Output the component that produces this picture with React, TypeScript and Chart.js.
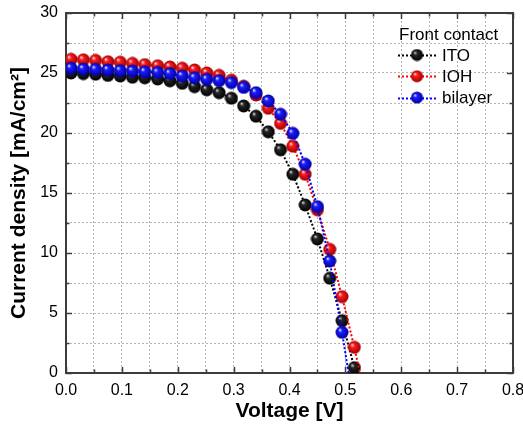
import React, { useEffect, useRef } from "react";
import { Chart, registerables } from "chart.js";

Chart.register(...registerables);

// ---- Data ----
const voltage = [
  0.009, 0.031, 0.053, 0.075, 0.097, 0.119, 0.141, 0.164, 0.186, 0.208, 0.23, 0.252,
  0.274, 0.296, 0.318, 0.34, 0.362, 0.384, 0.406, 0.428, 0.45, 0.472, 0.494, 0.516, 0.538,
];
const jITO = [
  25.0, 24.95, 24.9, 24.8, 24.75, 24.65, 24.6, 24.5, 24.35, 24.14, 23.86, 23.6,
  23.36, 22.9, 22.25, 21.4, 20.1, 18.6, 16.56, 14.0, 11.17, 7.9, 4.36, 0.44, -4.0,
];
const jIOH = [
  26.14, 26.1, 26.05, 25.94, 25.9, 25.8, 25.7, 25.6, 25.5, 25.4, 25.25, 25.0,
  24.8, 24.4, 23.9, 23.17, 22.06, 20.8, 18.9, 16.56, 13.6, 10.3, 6.36, 2.14, -2.5,
];
const jBilayer = [
  25.4, 25.33, 25.3, 25.25, 25.2, 25.17, 25.1, 25.05, 24.95, 24.75, 24.6, 24.47,
  24.36, 24.2, 23.8, 23.36, 22.67, 21.56, 19.97, 17.4, 13.86, 9.33, 3.39, -3.0,
];

const seriesNames = ["ITO", "IOH", "bilayer"];
const seriesColors = ["#000000", "#ff0000", "#0000ff"];
const legendTitle = "Front contact";

const xTickValues = [
  0, 0.05, 0.1, 0.15, 0.2, 0.25, 0.3, 0.35, 0.4, 0.45, 0.5, 0.55, 0.6, 0.65, 0.7, 0.75, 0.8,
];
const xTickLabels = ["0.0", "0.1", "0.2", "0.3", "0.4", "0.5", "0.6", "0.7", "0.8"];
const yTickValues = [0, 2.5, 5, 7.5, 10, 12.5, 15, 17.5, 20, 22.5, 25, 27.5, 30];
const yTickLabels = ["0", "5", "10", "15", "20", "25", "30"];

const xTitle = "Voltage [V]";
const yTitle = "Current density [mA/cm²]";

const FONT = '"Liberation Sans", Arial, sans-serif';

const ballPalettes: Record<string, [string, string, string]> = {
  "#000000": ["#d0d0d0", "#262626", "#000000"],
  "#ff0000": ["#ffe6e6", "#ff1c1c", "#a00000"],
  "#0000ff": ["#e6e6ff", "#1c1cff", "#0000a0"],
};

function makeBall(color: string, r: number): HTMLCanvasElement {
  const size = Math.round(r * 2) + 1;
  const c = document.createElement("canvas");
  c.width = size;
  c.height = size;
  const g = c.getContext("2d")!;
  const cx = size / 2;
  const cy = size / 2;
  const [hi, mid, dark] = ballPalettes[color];
  const grad = g.createRadialGradient(cx - r * 0.35, cy - r * 0.4, r * 0.05, cx, cy, r);
  grad.addColorStop(0, hi);
  grad.addColorStop(0.28, mid);
  grad.addColorStop(1, dark);
  g.fillStyle = grad;
  g.beginPath();
  g.arc(cx, cy, r, 0, Math.PI * 2);
  g.fill();
  return c;
}

export default function App() {
  const canvasRef = useRef<HTMLCanvasElement | null>(null);

  useEffect(() => {
    const canvas = canvasRef.current;
    if (!canvas) return;

    const balls = seriesColors.map((c) => makeBall(c, 6.5));
    const legendBalls = seriesColors.map((c) => makeBall(c, 6));
    const seriesValues = [jITO, jIOH, jBilayer];
    const drawOrder = [2, 1, 0];

    const framePlugin = {
      id: "frameTicks",
      beforeDatasetsDraw(chart: any) {
        const { ctx, chartArea } = chart;
        const { left, right, top, bottom } = chartArea;
        const xs = chart.scales.x;
        const ys = chart.scales.y;
        ctx.save();
        ctx.strokeStyle = "#3c3c3c";
        ctx.lineWidth = 2;
        ctx.strokeRect(left, top, right - left, bottom - top);
        ctx.lineWidth = 1.5;
        xTickValues.forEach((v, i) => {
          const px = Math.round(xs.getPixelForValue(v)) + 0.5;
          const len = i % 2 === 0 ? 6 : 3.5;
          ctx.beginPath();
          ctx.moveTo(px, bottom);
          ctx.lineTo(px, bottom - len);
          ctx.moveTo(px, top);
          ctx.lineTo(px, top + len);
          ctx.stroke();
        });
        yTickValues.forEach((v, i) => {
          const py = Math.round(ys.getPixelForValue(v)) + 0.5;
          const len = i % 2 === 0 ? 6 : 3.5;
          ctx.beginPath();
          ctx.moveTo(left, py);
          ctx.lineTo(left + len, py);
          ctx.moveTo(right, py);
          ctx.lineTo(right - len, py);
          ctx.stroke();
        });
        ctx.restore();
      },
      afterDraw(chart: any) {
        const { ctx } = chart;
        ctx.save();
        ctx.font = `17px ${FONT}`;
        ctx.fillStyle = "#000";
        ctx.textBaseline = "middle";
        ctx.textAlign = "left";
        ctx.fillText(legendTitle, 399, 35);
        seriesNames.forEach((name, i) => {
          const y = 55 + i * 21.3;
          ctx.strokeStyle = seriesColors[i];
          ctx.lineWidth = 2;
          ctx.setLineDash([2, 2]);
          ctx.beginPath();
          ctx.moveTo(398, Math.round(y) + 0.5);
          ctx.lineTo(436, Math.round(y) + 0.5);
          ctx.stroke();
          ctx.setLineDash([]);
          const b = legendBalls[i];
          ctx.drawImage(b, 417 - b.width / 2, y - b.height / 2);
          ctx.fillStyle = "#000";
          ctx.fillText(name, 442, y + 1);
        });
        ctx.restore();
      },
    };

    const chart = new Chart(canvas, {
      type: "line",
      data: {
        datasets: seriesNames.map((name, i) => ({
          label: name,
          data: seriesValues[i].map((y, k) => ({ x: voltage[k], y })),
          borderColor: seriesColors[i],
          backgroundColor: seriesColors[i],
          borderWidth: 2,
          borderDash: [2, 2],
          pointStyle: balls[i] as any,
          pointRadius: 6.5,
          pointHoverRadius: 6.5,
          tension: 0,
          fill: false,
          order: drawOrder[i],
        })),
      },
      options: {
        responsive: false,
        animation: false,
        events: [],
        layout: { padding: { top: 13, right: 10, left: 0, bottom: 0 } },
        plugins: {
          legend: { display: false },
          tooltip: { enabled: false },
        },
        scales: {
          x: {
            type: "linear",
            min: 0,
            max: 0.8,
            afterBuildTicks: (s: any) => {
              s.ticks = xTickValues.map((v) => ({ value: v }));
            },
            afterFit: (s: any) => {
              s.height = 54;
              s.paddingLeft = 0;
              s.paddingRight = 0;
            },
            grid: { color: "#b4b4b4", lineWidth: 1, drawTicks: false },
            border: { display: false, dash: [2, 2] },
            ticks: {
              autoSkip: false,
              maxRotation: 0,
              padding: 8,
              color: "#000",
              font: { family: FONT, size: 16 },
              callback: (_v: any, i: number) => (i % 2 === 0 ? xTickLabels[i / 2] : ""),
            },
            title: {
              display: true,
              text: xTitle,
              color: "#000",
              font: { family: FONT, size: 21, weight: "bold" },
              padding: { top: 0, bottom: 3 },
            },
          },
          y: {
            type: "linear",
            min: 0,
            max: 30,
            afterBuildTicks: (s: any) => {
              s.ticks = yTickValues.map((v) => ({ value: v }));
            },
            afterFit: (s: any) => {
              s.width = 66;
              s.paddingTop = 0;
              s.paddingBottom = 0;
            },
            grid: { color: "#b4b4b4", lineWidth: 1, drawTicks: false },
            border: { display: false, dash: [2, 2] },
            ticks: {
              autoSkip: false,
              padding: 8,
              color: "#000",
              font: { family: FONT, size: 16 },
              callback: (_v: any, i: number) => (i % 2 === 0 ? yTickLabels[i / 2] : ""),
            },
            title: {
              display: true,
              text: yTitle,
              color: "#000",
              font: { family: FONT, size: 21, weight: "bold" },
              padding: { top: 7, bottom: 0 },
            },
          },
        },
      },
      plugins: [framePlugin],
    });

    return () => chart.destroy();
  }, []);

  return (
    <div style={{ position: "absolute", left: 0, top: 0, width: 523, height: 427, background: "#fff" }}>
      <canvas ref={canvasRef} width={523} height={427} />
    </div>
  );
}
